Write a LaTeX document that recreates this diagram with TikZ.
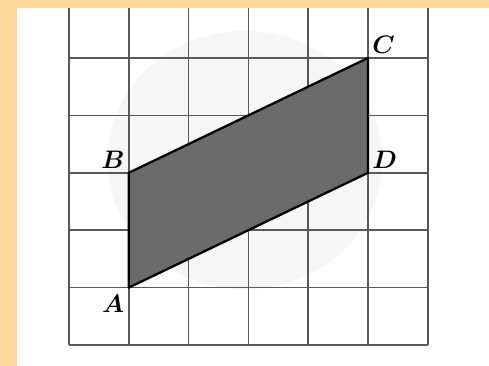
\documentclass[tikz,border=0pt]{standalone}
\usetikzlibrary{positioning}
\definecolor{peach}{HTML}{FDDA9C}
\definecolor{shade}{HTML}{6B6B6B}
\tikzset{
    gridline/.style={draw=black!65,line width=0.9pt},
    figline/.style={draw=black,line width=1.3pt,line join=round,fill=shade},
    vlabel/.style={font=\fontsize{15}{17}\selectfont\boldmath,inner sep=1.5pt}
}
\begin{document}
\begin{tikzpicture}[x=1.196cm,y=1.148cm]
    % Nền
    \fill[peach] (-1.154,-0.366) rectangle (7.023,6.010);
    \fill[white] (-0.870,-0.366) rectangle (7.023,5.871);
    \useasboundingbox (-1.154,-0.366) rectangle (7.023,6.010);
    % Vết mờ phía sau
    \fill[gray!7] (2.94,3.22) ellipse [x radius=2.3, y radius=2.25];
    % Vẽ lưới
    \draw[gridline,step=1] (0,0) grid (6,5.871);
    % Các đỉnh
    \coordinate (A) at (1,1);
    \coordinate (B) at (1,3);
    \coordinate (C) at (5,5);
    \coordinate (D) at (5,3);
    % Vẽ hình bình hành
    \draw[figline] (A) -- (B) -- (C) -- (D) -- cycle;
    % Tên các đỉnh
    \node[vlabel,below left=2.5pt and 1pt of A] (lA) {$A$};
    \node[vlabel,above left=1pt of B] (lB) {$B$};
    \node[vlabel,above right=1pt of C] (lC) {$C$};
    \node[vlabel,above right=1pt of D] (lD) {$D$};
\end{tikzpicture}
\end{document}
